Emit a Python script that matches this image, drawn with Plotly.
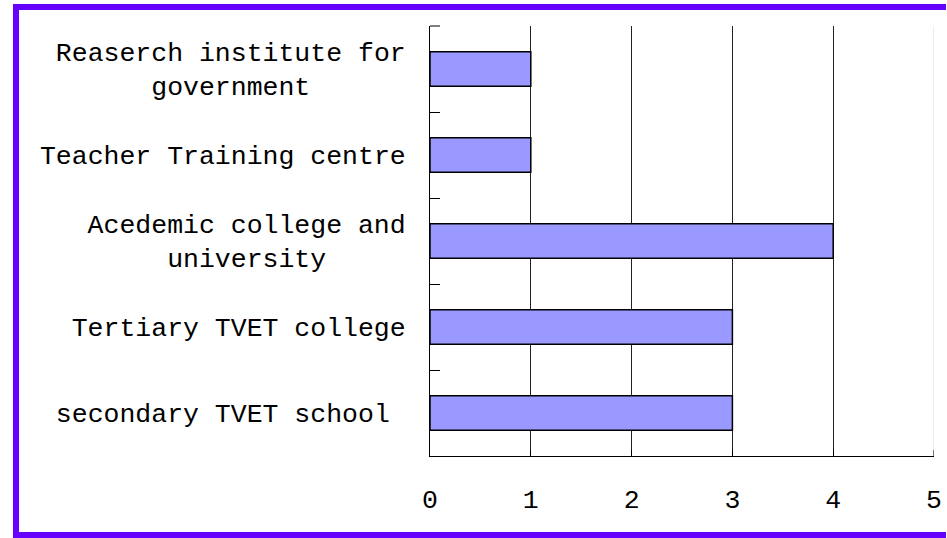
import plotly.graph_objects as go

NB = "\u00a0"
categories = [
    "Reaserch institute for<br>" + NB * 6 + "government" + NB * 6,
    "Teacher Training centre",
    NB + "Acedemic college and<br>" + NB * 5 + "university" + NB * 5,
    "Tertiary TVET college",
    "secondary TVET school" + NB,
]
values = [1, 1, 4, 3, 3]
x_ticks = [0, 1, 2, 3, 4, 5]

FONT = "Liberation Mono"
FS = 26.5
W, H = 947, 538
L, R, T, B = 430, 13, 26, 82
pw, ph = W - L - R, H - T - B

def px_to_paper_x(px):
    return (px - L) / pw

def px_to_paper_y(py):
    return (H - B - py) / ph

fig = go.Figure()
fig.add_trace(go.Bar(
    y=categories, x=values, orientation="h", width=0.4,
    marker=dict(color="#9999FF", line=dict(color="black", width=1.5)),
    hoverinfo="skip",
))

border = dict(color="#6600FF", width=6)
fig.update_layout(
    width=W, height=H,
    margin=dict(l=L, r=R, t=T, b=B, pad=0, autoexpand=False),
    paper_bgcolor="white", plot_bgcolor="white",
    showlegend=False,
    font=dict(family=FONT, size=FS, color="black"),
    xaxis=dict(
        range=[x_ticks[0], x_ticks[-1]], tickvals=x_ticks,
        showgrid=True, gridcolor="#222222", gridwidth=1,
        showline=True, linecolor="black", linewidth=1,
        ticks="inside", ticklen=6, tickcolor="black",
        ticklabelstandoff=19, zeroline=False, automargin=False,
        tickfont=dict(family=FONT, size=FS),
    ),
    yaxis=dict(
        autorange="reversed", type="category",
        tickson="boundaries", ticks="inside", ticklen=10, tickcolor="black",
        showgrid=False, showline=True, linecolor="black", linewidth=1,
        ticklabelstandoff=18, zeroline=False, automargin=False,
        tickfont=dict(family=FONT, size=FS),
    ),
    shapes=[
        dict(type="line", xref="x", yref="paper",
             x0=x_ticks[-1], x1=x_ticks[-1], y0=0, y1=1,
             line=dict(color="#dddddd", width=1), layer="above"),
        dict(type="line", xref="x", yref="paper",
             x0=x_ticks[-1], x1=x_ticks[-1], y0=0, y1=6 / ph,
             line=dict(color="black", width=1), layer="above"),
        dict(type="line", xref="paper", yref="paper",
             x0=0, x1=10 / pw, y0=1, y1=1,
             line=dict(color="black", width=1), layer="above"),
        # purple frame: left, top, bottom edges (right edge lies outside the image)
        dict(type="line", xref="paper", yref="paper",
             x0=px_to_paper_x(16), x1=px_to_paper_x(16),
             y0=px_to_paper_y(538), y1=px_to_paper_y(4),
             line=border, layer="above"),
        dict(type="line", xref="paper", yref="paper",
             x0=px_to_paper_x(13), x1=px_to_paper_x(W - 1),
             y0=px_to_paper_y(7), y1=px_to_paper_y(7),
             line=border, layer="above"),
        dict(type="line", xref="paper", yref="paper",
             x0=px_to_paper_x(13), x1=px_to_paper_x(W - 1),
             y0=px_to_paper_y(535), y1=px_to_paper_y(535),
             line=border, layer="above"),
    ],
)

fig.write_html(
    "out.html",
    config={"displayModeBar": False, "responsive": False},
    post_script="document.documentElement.style.margin='0';document.body.style.margin='0';document.body.style.overflow='hidden';",
)
